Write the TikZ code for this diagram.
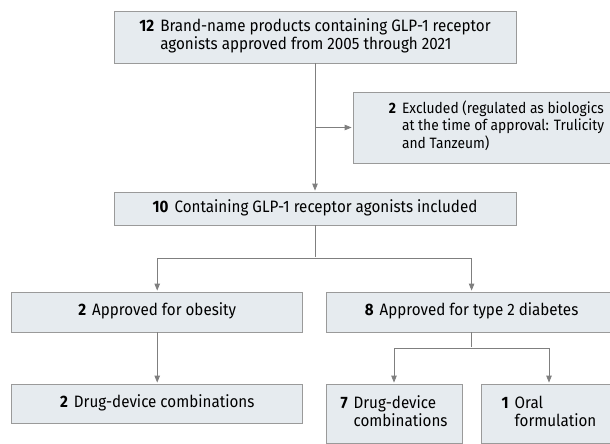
\documentclass[tikz,border=0pt]{standalone}
\usepackage{fontspec}
\setmainfont[FakeStretch=0.92]{Fira Sans}
\usetikzlibrary{arrows.meta}
\definecolor{boxfill}{HTML}{E6EBEF}
\definecolor{boxline}{HTML}{9A9A9A}
\definecolor{arrline}{HTML}{7F7F7F}
\newcommand{\nbox}[2]{\begin{tabular}{@{}l@{\hspace{6pt}}l@{}}\textbf{#1}&#2\end{tabular}}
\begin{document}
\begin{tikzpicture}[x=1pt,y=-1pt,>={Triangle[length=7pt,width=5.5pt]},
	box/.style={draw=boxline,fill=boxfill,line width=0.8pt,inner sep=0pt,font=\fontsize{16.5}{17}\selectfont},
	arr/.style={draw=arrline,line width=0.8pt,->,shorten >=1pt}]
		\clip (0,0) rectangle (610,444);
		% boxes
		\node[box,minimum width=402pt,minimum height=52pt] (all) at (315,37) {\nbox{12}{Brand-name products containing GLP-1 receptor\\&agonists approved from 2005 through 2021}};
		\node[box,minimum width=287pt,minimum height=71pt,font=\fontsize{15}{17}\selectfont] (excl) at (496.5,127.5) {\nbox{2}{Excluded (regulated as biologics\\&at the time of approval: Trulicity\\&and Tanzeum)}};
		\node[box,minimum width=402pt,minimum height=33pt] (incl) at (315,208.5) {\nbox{10}{Containing GLP-1 receptor agonists included}};
		\node[box,minimum width=291pt,minimum height=40pt] (obes) at (157.2,312) {\nbox{2}{Approved for obesity}};
		\node[box,minimum width=291pt,minimum height=40pt] (diab) at (471.6,312) {\nbox{8}{Approved for type 2 diabetes}};
		\node[box,minimum width=291pt,minimum height=39pt] (dd2) at (157.2,403.5) {\nbox{2}{Drug-device combinations}};
		\node[box,minimum width=136pt,minimum height=59pt] (dd7) at (394,413.5) {\nbox{7}{Drug-device\\&combinations}};
		\node[box,minimum width=136pt,minimum height=59pt] (oral) at (549,413.5) {\nbox{1}{Oral\\&formulation}};
		% connectors
		\coordinate (fork1) at (315,258);
		\coordinate (fork2) at (471.6,348);
		\draw[arr] (all) -- (incl);
		\draw[arr] (all.south|-excl.west) -- (excl.west);
		\draw[arr,-] (incl) -- (fork1);
		\draw[arr] (fork1) -| (obes);
		\draw[arr] (fork1) -| (diab);
		\draw[arr] (obes) -- (dd2);
		\draw[arr,-] (diab) -- (fork2);
		\draw[arr] (fork2) -| (dd7);
		\draw[arr] (fork2) -| (oral);
	\end{tikzpicture}
\end{document}
